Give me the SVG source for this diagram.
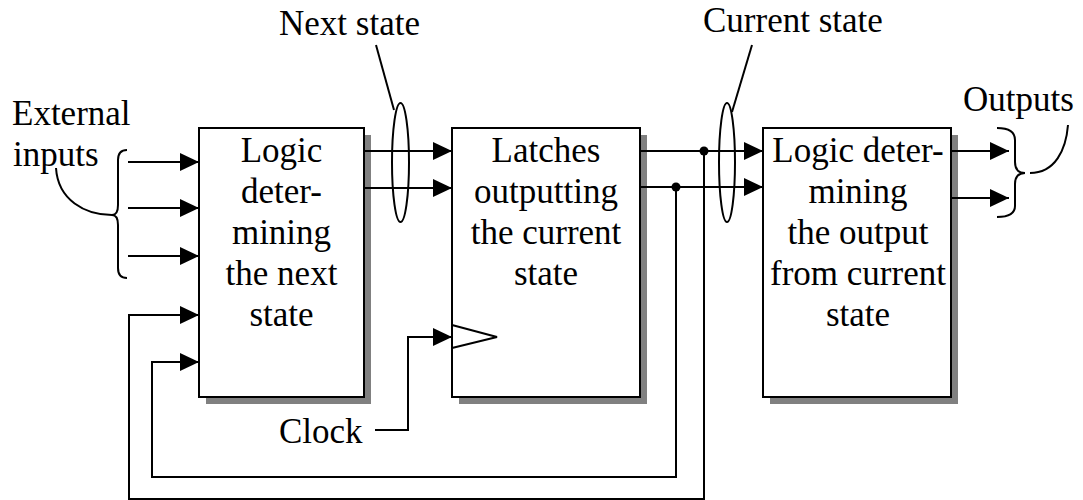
<svg xmlns="http://www.w3.org/2000/svg" width="1083" height="500" viewBox="0 0 1083 500">
<style>
text{font-family:"Liberation Serif","Times New Roman",serif;font-size:35px;fill:#000}
.c{text-anchor:middle}
.box{fill:#fff;stroke:#000;stroke-width:2}
.sh{fill:#808080}
.ln{fill:none;stroke:#000;stroke-width:2}
.ar{fill:none;stroke:#000;stroke-width:2;marker-end:url(#ah)}
</style>
<defs>
<marker id="ah" viewBox="0 0 19 18" refX="19" refY="9" markerWidth="19" markerHeight="18" markerUnits="userSpaceOnUse" orient="auto">
<path d="M0,0 L19,9 L0,18 Z" fill="#000"/>
</marker>
</defs>
<rect width="1083" height="500" fill="#fff"/>
<g id="node-next-logic">
<rect class="sh" x="206" y="135" width="165" height="269"/>
<rect class="box" x="199" y="128" width="165" height="269"/>
<text class="c" x="281.5" y="162">Logic</text>
<text class="c" x="281.5" y="203">deter-</text>
<text class="c" x="281.5" y="244">mining</text>
<text class="c" x="281.5" y="285">the next</text>
<text class="c" x="281.5" y="326">state</text>
</g>
<g id="node-latches">
<rect class="sh" x="459" y="135" width="188" height="269"/>
<rect class="box" x="452" y="128" width="188" height="269"/>
<text class="c" x="546" y="162">Latches</text>
<text class="c" x="546" y="203">outputting</text>
<text class="c" x="546" y="244">the current</text>
<text class="c" x="546" y="285">state</text>
<path class="ln" d="M452,325 L497,337 L452,348"/>
</g>
<g id="node-output-logic">
<rect class="sh" x="770" y="135" width="188" height="269"/>
<rect class="box" x="763" y="128" width="188" height="269"/>
<text class="c" x="858" y="162">Logic deter-</text>
<text class="c" x="858" y="203">mining</text>
<text class="c" x="858" y="244">the output</text>
<text class="c" x="858" y="285">from current</text>
<text class="c" x="858" y="326">state</text>
</g>
<g id="labels">
<text x="12" y="125">External</text>
<text x="13" y="166">inputs</text>
<text x="279" y="35">Next state</text>
<text x="703" y="32">Current state</text>
<text x="963" y="111">Outputs</text>
<text x="279" y="443">Clock</text>
</g>
<g id="connectors">
<path class="ar" d="M128,162 H199"/>
<path class="ar" d="M128,208 H199"/>
<path class="ar" d="M128,256 H199"/>
<path class="ar" d="M364,151 H452"/>
<path class="ar" d="M364,188 H452"/>
<path class="ar" d="M640,151 H763"/>
<path class="ar" d="M640,187 H763"/>
<path class="ar" d="M951,151 H1009"/>
<path class="ar" d="M951,198 H1009"/>
<path class="ar" d="M704,151 V499 H129 V315 H199"/>
<path class="ar" d="M676,187 V477 H152 V362 H199"/>
<path class="ar" d="M375,430 H408 V337 H452"/>
<circle cx="704" cy="151" r="4.5" fill="#000"/>
<circle cx="676" cy="187" r="4.5" fill="#000"/>
<ellipse class="ln" cx="400.5" cy="162.5" rx="8.5" ry="59.5"/>
<ellipse class="ln" cx="727" cy="162.5" rx="8" ry="59.5"/>
<path class="ln" d="M376,45 L394,110"/>
<path class="ln" d="M752,45 L732,112"/>
<path class="ln" d="M127,150 Q118,150 118,160 V205 Q118,215 112,215 Q118,215 118,225 V268 Q118,278 127,278"/>
<path class="ln" d="M56,168 C58,200 85,215 112,215"/>
<path class="ln" d="M997,128 Q1015,128 1015,140 V162 Q1015,173 1025,173 Q1015,173 1015,184 V206 Q1015,217 997,217"/>
<path class="ln" d="M1030,173 C1055,173 1066,150 1068,125"/>
</g>
</svg>
